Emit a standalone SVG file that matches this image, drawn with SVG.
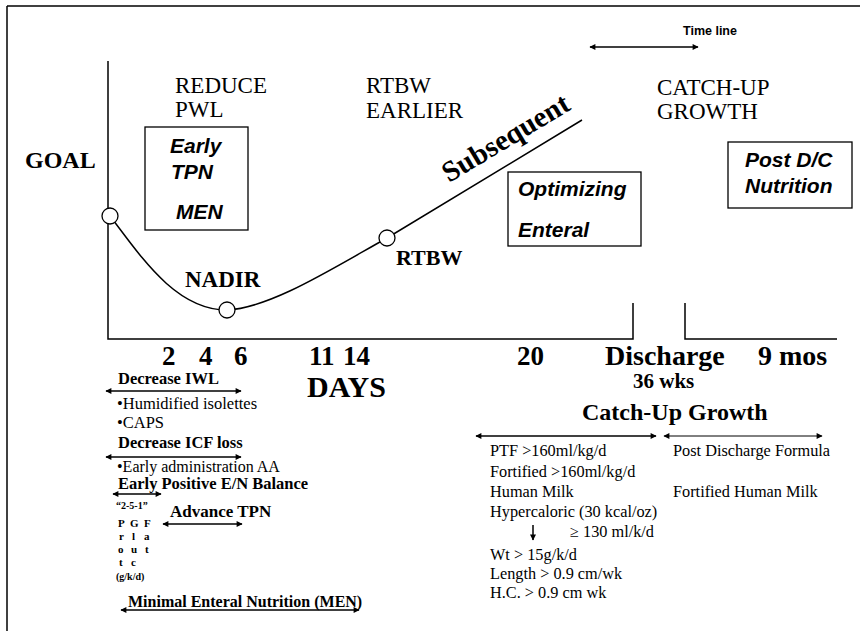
<svg xmlns="http://www.w3.org/2000/svg" width="860" height="631" viewBox="0 0 860 631">
<style>
.ser{font-family:"Liberation Serif","Times New Roman",serif;fill:#000}
.b{font-weight:bold}
.sans{font-family:"Liberation Sans",Arial,sans-serif;font-weight:bold;font-style:italic;fill:#000}
.ln{stroke:#000;fill:none;stroke-width:1.5}
.box{stroke:#000;fill:none;stroke-width:1.3}
.arr{stroke:#000;stroke-width:1.5;fill:none;marker-start:url(#ah);marker-end:url(#ah)}
.dot{fill:#fff;stroke:#000;stroke-width:1.3}
</style>
<defs>
<marker id="ah" viewBox="0 0 10 10" refX="9" refY="5" markerWidth="7" markerHeight="6" orient="auto-start-reverse" markerUnits="userSpaceOnUse">
<path d="M0,0 L10,5 L0,10 z" fill="#000"/>
</marker>
</defs>
<rect x="0" y="0" width="860" height="631" fill="#fff"/>
<g id="frame">
<line class="ln" x1="7" y1="6" x2="860" y2="6"/>
<line class="ln" x1="7" y1="6" x2="7" y2="631"/>
</g>
<g id="connectors">
<path class="ln" d="M108,61 L108,339 L633,339 L633,303"/>
<path class="ln" d="M685,303 L685,339 L837,339"/>
<path class="ln" d="M110,216 C140,255 175,310 227,310 C270,308 330,270 387,238 L582,120"/>
<line class="arr" x1="590" y1="47" x2="698" y2="47"/>
<line class="arr" x1="106" y1="391" x2="241" y2="391"/>
<line class="arr" x1="106" y1="457" x2="241" y2="457"/>
<line class="arr" x1="113" y1="494" x2="161" y2="494"/>
<line class="arr" x1="163" y1="524" x2="242" y2="524"/>
<line class="arr" x1="121" y1="610" x2="359" y2="610"/>
<line class="arr" x1="476" y1="436" x2="656" y2="436"/>
<line class="arr" x1="664" y1="436" x2="822" y2="436" style="stroke-width:1"/>
<line class="ln" x1="533" y1="525" x2="533" y2="540" style="marker-end:url(#ah)"/>
</g>
<g id="goal-point"><circle class="dot" cx="110" cy="216" r="8"/></g>
<g id="nadir-point"><circle class="dot" cx="227" cy="310" r="8"/></g>
<g id="rtbw-point"><circle class="dot" cx="387" cy="238" r="8"/></g>
<g id="labels-top">
<text class="ser b" x="25" y="168" font-size="24">GOAL</text>
<text class="ser" x="175" y="93" font-size="23">REDUCE</text>
<text class="ser" x="175" y="117" font-size="23">PWL</text>
<text class="ser" x="366" y="93" font-size="23">RTBW</text>
<text class="ser" x="366" y="118" font-size="23">EARLIER</text>
<text class="ser" x="657" y="95" font-size="23">CATCH-UP</text>
<text class="ser" x="657" y="119" font-size="23">GROWTH</text>
<text class="ser b" x="185" y="287" font-size="23">NADIR</text>
<text class="ser b" x="396" y="265" font-size="22">RTBW</text>
<text class="ser b" x="0" y="0" font-size="29" transform="translate(449,183) rotate(-31)">Subsequent</text>
<text class="sans" x="683" y="35" font-size="12.5" style="font-style:normal">Time line</text>
</g>
<g id="box-early-tpn">
<rect class="box" x="145" y="127" width="103" height="103"/>
<text class="sans" x="170" y="153" font-size="21">Early</text>
<text class="sans" x="171" y="179" font-size="21">TPN</text>
<text class="sans" x="176" y="219" font-size="21">MEN</text>
</g>
<g id="box-optimizing">
<rect class="box" x="508" y="172" width="133" height="74"/>
<text class="sans" x="518" y="196" font-size="21">Optimizing</text>
<text class="sans" x="518" y="237" font-size="21">Enteral</text>
</g>
<g id="box-post-dc">
<rect class="box" x="728" y="142" width="124" height="66"/>
<text class="sans" x="745" y="167" font-size="21">Post D/C</text>
<text class="sans" x="745" y="193" font-size="21">Nutrition</text>
</g>
<g id="axis-labels">
<text class="ser b" x="162" y="365" font-size="27">2</text>
<text class="ser b" x="199" y="365" font-size="27">4</text>
<text class="ser b" x="234" y="365" font-size="27">6</text>
<text class="ser b" x="309" y="365" font-size="27">11</text>
<text class="ser b" x="343" y="365" font-size="27">14</text>
<text class="ser b" x="307" y="397" font-size="30">DAYS</text>
<text class="ser b" x="517" y="365" font-size="27">20</text>
<text class="ser b" x="605" y="365" font-size="28">Discharge</text>
<text class="ser b" x="758" y="365" font-size="28">9 mos</text>
<text class="ser b" x="633" y="388" font-size="21">36 wks</text>
</g>
<g id="early-phase">
<text class="ser b" x="118" y="384" font-size="16.5">Decrease IWL</text>
<text class="ser" x="117" y="409" font-size="16.5">•Humidified isolettes</text>
<text class="ser" x="117" y="428" font-size="16.5">•CAPS</text>
<text class="ser b" x="118" y="448" font-size="16.5">Decrease ICF loss</text>
<text class="ser" x="117" y="472" font-size="16">•Early administration AA</text>
<text class="ser b" x="118" y="489" font-size="16.5">Early Positive E/N Balance</text>
<text class="ser b" x="116" y="509" font-size="10">“2-5-1”</text>
<text class="ser b" x="170" y="517" font-size="17">Advance TPN</text>
<g class="ser b" font-size="11">
<text x="118" y="527">P</text><text x="130" y="527">G</text><text x="144" y="527">F</text>
<text x="119" y="540">r</text><text x="132" y="540">l</text><text x="144" y="540">a</text>
<text x="118" y="553">o</text><text x="131" y="553">u</text><text x="145" y="553">t</text>
<text x="119" y="566">t</text><text x="131" y="566">c</text>
</g>
<text class="ser b" x="116" y="580" font-size="10">(g/k/d)</text>
<text class="ser b" x="128" y="607" font-size="16">Minimal Enteral Nutrition (MEN)</text>
</g>
<g id="catch-up">
<text class="ser b" x="582" y="420" font-size="24">Catch-Up Growth</text>
<text class="ser" x="490" y="456" font-size="16.3">PTF &gt;160ml/kg/d</text>
<text class="ser" x="490" y="477" font-size="16.3">Fortified &gt;160ml/kg/d</text>
<text class="ser" x="490" y="497" font-size="16.3">Human Milk</text>
<text class="ser" x="490" y="517" font-size="16.3">Hypercaloric (30 kcal/oz)</text>
<text class="ser" x="570" y="537" font-size="16.3">≥ 130 ml/k/d</text>
<text class="ser" x="490" y="560" font-size="16.3">Wt &gt; 15g/k/d</text>
<text class="ser" x="490" y="579" font-size="16.3">Length &gt; 0.9 cm/wk</text>
<text class="ser" x="490" y="598" font-size="16.3">H.C. &gt; 0.9 cm wk</text>
<text class="ser" x="673" y="456" font-size="16.3">Post Discharge Formula</text>
<text class="ser" x="673" y="497" font-size="16.3">Fortified Human Milk</text>
</g>
</svg>
